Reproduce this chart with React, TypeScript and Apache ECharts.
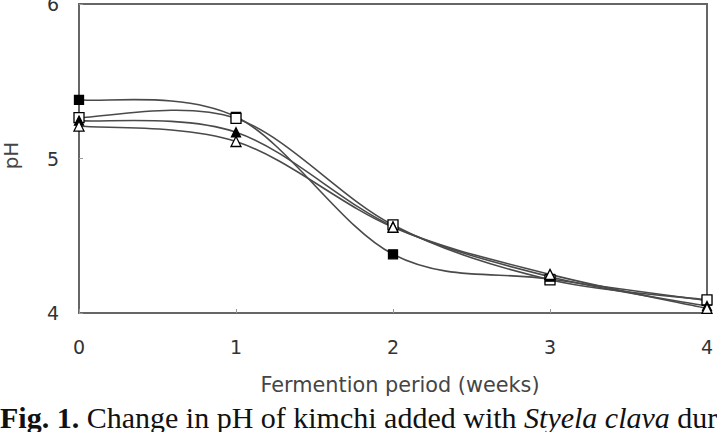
import React, { useEffect, useRef } from "react";
import * as echarts from "echarts";

// Fermentation time points (weeks)
const weeks = [0, 1, 2, 3, 4];

// pH values of the four kimchi treatments
const phFilledSquare = [5.38, 5.27, 4.38, 4.22, 4.08];
const phOpenSquare = [5.265, 5.26, 4.57, 4.215, 4.085];
const phFilledTriangle = [5.245, 5.17, 4.56, 4.235, 4.045];
const phOpenTriangle = [5.21, 5.11, 4.555, 4.25, 4.03];

const yTicks = [4, 5, 6];

const xTitle = "Fermention period (weeks)";
const yTitle = "pH";

const LINE = "#4a4a4a";
const FRAME = "#666666";
const SANS = "DejaVu Sans";

function pairs(vals: number[]) {
  return weeks.map((w, i) => [w, vals[i]]);
}

// Smoothed connecting curve: each segment is a cubic Bezier whose control
// points follow the neighbouring points (Catmull-Rom style), placed in pixel
// space through the grid's own coordinate conversion.
function curveSeries(name: string, vals: number[]) {
  const n = vals.length;
  return {
    name: name + " curve",
    type: "custom",
    coordinateSystem: "cartesian2d",
    data: pairs(vals),
    encode: { x: 0, y: 1 },
    z: 2,
    silent: true,
    renderItem: (params: any, api: any) => {
      const i = params.dataIndex;
      if (i >= n - 1) return { type: "group", children: [] };
      const at = (k: number) => {
        const j = Math.max(0, Math.min(n - 1, k));
        return api.coord([weeks[j], vals[j]]);
      };
      const p0 = at(i - 1);
      const p1 = at(i);
      const p2 = at(i + 1);
      const p3 = at(i + 2);
      return {
        type: "bezierCurve",
        shape: {
          x1: p1[0],
          y1: p1[1],
          x2: p2[0],
          y2: p2[1],
          cpx1: p1[0] + (p2[0] - p0[0]) / 6,
          cpy1: p1[1] + (p2[1] - p0[1]) / 6,
          cpx2: p2[0] - (p3[0] - p1[0]) / 6,
          cpy2: p2[1] - (p3[1] - p1[1]) / 6,
        },
        style: { stroke: LINE, lineWidth: 1.6, fill: "none" },
      };
    },
  };
}

function markerSeries(
  name: string,
  vals: number[],
  symbol: string,
  filled: boolean,
  size: number,
  z: number
) {
  return {
    name,
    type: "scatter",
    data: pairs(vals),
    symbol,
    symbolSize: size,
    z,
    itemStyle: {
      color: filled ? "#000000" : "#ffffff",
      borderColor: "#000000",
      borderWidth: 1.3,
      opacity: 1,
    },
    emphasis: { disabled: true },
  };
}

export default function App() {
  const ref = useRef<HTMLDivElement>(null);

  useEffect(() => {
    if (!ref.current) return;
    const chart = echarts.init(ref.current, undefined, { renderer: "svg" });
    chart.setOption({
      animation: false,
      backgroundColor: "#ffffff",
      grid: {
        left: 79,
        right: 10,
        top: 4,
        bottom: 119,
        outerBoundsMode: "none",
        containLabel: false,
        show: true,
        borderColor: FRAME,
        borderWidth: 2,
        backgroundColor: "transparent",
      },
      xAxis: {
        type: "value",
        min: 0,
        max: 4,
        interval: 1,
        name: xTitle,
        nameLocation: "middle",
        nameGap: 72,
        nameTextStyle: {
          fontFamily: SANS,
          fontSize: 20.8,
          color: "#454545",
          verticalAlign: "middle",
          padding: [0, 0, 0, 14],
        },
        axisLine: { show: true, lineStyle: { color: FRAME, width: 2 } },
        axisTick: { show: true, inside: true, length: 4, lineStyle: { color: "#999" } },
        axisLabel: {
          margin: 24,
          fontFamily: SANS,
          fontSize: 19,
          color: "#333",
        },
        splitLine: { show: false },
      },
      yAxis: {
        type: "value",
        min: yTicks[0],
        max: yTicks[yTicks.length - 1],
        interval: 1,
        name: yTitle,
        nameLocation: "middle",
        nameRotate: 90,
        nameGap: 68,
        nameTextStyle: {
          fontFamily: SANS,
          fontSize: 20,
          color: "#454545",
          verticalAlign: "middle",
          padding: [0, 0, 0, 6],
        },
        axisLine: { show: true, lineStyle: { color: FRAME, width: 2 } },
        axisTick: { show: true, inside: true, length: 4, lineStyle: { color: "#999" } },
        axisLabel: {
          margin: 20,
          fontFamily: SANS,
          fontSize: 19,
          color: "#333",
        },
        splitLine: { show: false },
      },
      series: [
        curveSeries("Filled square", phFilledSquare),
        curveSeries("Open square", phOpenSquare),
        curveSeries("Filled triangle", phFilledTriangle),
        curveSeries("Open triangle", phOpenTriangle),
        markerSeries("Filled square", phFilledSquare, "rect", true, 9, 10),
        markerSeries("Open square", phOpenSquare, "rect", false, 10, 11),
        markerSeries("Filled triangle", phFilledTriangle, "triangle", true, 9, 12),
        markerSeries("Open triangle", phOpenTriangle, "triangle", false, 10, 13),
      ],
      graphic: [
        {
          type: "text",
          left: 0,
          top: 402,
          style: {
            text: "{b|Fig. 1.} Change in pH of kimchi added with {i|Styela clava} dur",
            fontFamily: "Liberation Serif",
            fontSize: 30,
            fill: "#111",
            rich: {
              b: {
                fontFamily: "Liberation Serif",
                fontSize: 30,
                fontWeight: "bold",
                fill: "#111",
              },
              i: {
                fontFamily: "Liberation Serif",
                fontSize: 30,
                fontStyle: "italic",
                fill: "#111",
              },
            },
          },
        },
      ],
    });
    return () => chart.dispose();
  }, []);

  return (
    <div
      ref={ref}
      style={{ position: "fixed", left: 0, top: 0, width: 717, height: 432 }}
    />
  );
}
